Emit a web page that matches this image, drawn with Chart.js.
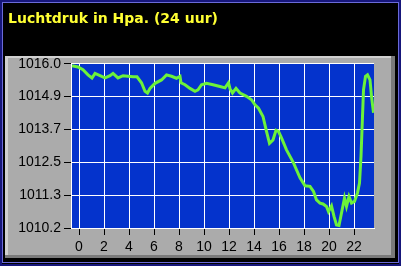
<!DOCTYPE html>
<html>
<head>
<meta charset="utf-8">
<script src="https://cdn.jsdelivr.net/npm/chart.js@4"></script>
<style>
  html, body { margin: 0; padding: 0; background: #000; }
</style>
</head>
<body>
<canvas id="drukChart" width="401" height="266"></canvas>
<script>
// Titel en gegevens
const titel = 'Luchtdruk in Hpa. (24 uur)';

const uren = [-0.56, -0.08, 0.32, 0.72, 1.04, 1.28, 1.68, 2.08, 2.48, 2.72, 3.12, 3.52, 3.92, 4.32, 4.64,
  5.0, 5.28, 5.48, 5.68, 6.08, 6.6, 7.0, 7.4, 7.8, 8.08, 8.16, 8.48, 8.88, 9.28, 9.52, 9.8, 10.2,
  10.72, 11.28, 11.68, 11.96, 12.08, 12.28, 12.56, 12.88, 13.4, 13.8, 14.08, 14.36, 14.72, 15.0,
  15.24, 15.52, 15.76, 15.96, 16.2, 16.6, 17.16, 17.68, 18.08, 18.48, 18.76, 19.0, 19.28, 19.52,
  19.8, 19.96, 20.2, 20.4, 20.6, 20.8, 21.0, 21.24, 21.4, 21.6, 21.8, 22.04, 22.28, 22.44, 22.56,
  22.68, 22.76, 22.92, 23.08, 23.28, 23.4, 23.56];

const druk = [1015.93, 1015.89, 1015.79, 1015.61, 1015.50, 1015.66, 1015.58, 1015.50, 1015.58, 1015.66,
  1015.50, 1015.58, 1015.56, 1015.54, 1015.54, 1015.33, 1015.03, 1014.97, 1015.13, 1015.31, 1015.43,
  1015.61, 1015.56, 1015.49, 1015.56, 1015.33, 1015.26, 1015.13, 1015.03, 1015.08, 1015.26, 1015.31,
  1015.26, 1015.20, 1015.15, 1015.33, 1015.12, 1014.97, 1015.13, 1014.97, 1014.85, 1014.73, 1014.55,
  1014.43, 1014.14, 1013.61, 1013.19, 1013.31, 1013.65, 1013.61, 1013.38, 1012.96, 1012.50, 1011.97,
  1011.69, 1011.67, 1011.49, 1011.19, 1011.08, 1011.05, 1010.96, 1010.78, 1010.98, 1010.61, 1010.31,
  1010.29, 1010.73, 1011.26, 1010.96, 1011.31, 1011.08, 1011.14, 1011.44, 1011.79, 1012.73, 1014.14,
  1015.08, 1015.56, 1015.61, 1015.43, 1014.85, 1014.27];

const urenTicks = [0, 2, 4, 6, 8, 10, 12, 14, 16, 18, 20, 22];
const drukLabels = ['1010.2', '1011.3', '1012.5', '1013.7', '1014.9', '1016.0'];

const yMin = 1010.2;
const yMax = 1016.0;
const xMin = -0.64;
const xMax = 23.6;

// Achtergrond: zwart vlak, blauwe rand, grijs paneel en blauw plotvlak
const achtergrond = {
  id: 'achtergrond',
  beforeDraw(chart) {
    const c = chart.ctx;
    const a = chart.chartArea;
    c.save();
    c.fillStyle = '#000';
    c.fillRect(0, 0, chart.width, chart.height);
    // buitenrand
    c.strokeStyle = '#16167a';
    c.lineWidth = 2;
    c.strokeRect(1, 1, chart.width - 2, chart.height - 2);
    c.strokeStyle = '#6a6ad8';
    c.lineWidth = 1;
    c.strokeRect(2.5, 2.5, chart.width - 5, chart.height - 6);
    // grijs paneel met reliëf
    c.fillStyle = '#ababab';
    c.fillRect(5, 56, 390, 202);
    c.fillStyle = '#d0d0d0';
    c.fillRect(5, 56, 390, 2);
    c.fillRect(5, 56, 3, 202);
    c.fillStyle = '#7a7a7a';
    c.fillRect(391, 56, 4, 202);
    c.fillRect(5, 255, 390, 3);
    // plotvlak
    c.fillStyle = '#0433cc';
    c.fillRect(a.left, a.top, a.right - a.left, a.bottom - a.top);
    c.restore();
  }
};

const ctx = document.getElementById('drukChart').getContext('2d');

new Chart(ctx, {
  type: 'line',
  data: {
    datasets: [{
      label: 'Luchtdruk',
      data: uren.map((u, i) => ({ x: u, y: druk[i] })),
      borderColor: '#6cf23a',
      borderWidth: 3,
      pointRadius: 0,
      tension: 0,
      fill: false
    }]
  },
  options: {
    responsive: false,
    animation: false,
    devicePixelRatio: 1,
    layout: {
      padding: { left: 8, right: 27, top: 0, bottom: 0 }
    },
    scales: {
      x: {
        type: 'linear',
        min: xMin,
        max: xMax,
        afterBuildTicks: (s) => { s.ticks = urenTicks.map(v => ({ value: v })); },
        afterFit: (s) => { s.height = 38; },
        grid: { color: '#ffffff', tickColor: '#000000', tickLength: 7, lineWidth: 1 },
        border: { color: '#ffffff' },
        ticks: {
          color: '#000',
          padding: 4,
          maxRotation: 0,
          font: { family: 'Liberation Sans', size: 14 }
        }
      },
      y: {
        min: yMin,
        max: yMax,
        afterBuildTicks: (s) => {
          s.ticks = drukLabels.map((l, i) => ({ value: yMin + i * (yMax - yMin) / (drukLabels.length - 1) }));
        },
        afterFit: (s) => { s.width = 63; },
        grid: { color: '#ffffff', tickColor: '#000000', tickLength: 7, lineWidth: 1 },
        border: { color: '#ffffff' },
        ticks: {
          color: '#000',
          padding: 3,
          font: { family: 'Liberation Sans', size: 14 },
          callback: (v, i) => drukLabels[i]
        }
      }
    },
    plugins: {
      legend: { display: false },
      tooltip: { enabled: false },
      title: {
        display: true,
        text: titel,
        align: 'start',
        color: '#ffff33',
        font: { family: 'DejaVu Sans', size: 14, weight: 'bold' },
        padding: { top: 11, bottom: 36 }
      }
    }
  },
  plugins: [achtergrond]
});
</script>
</body>
</html>
